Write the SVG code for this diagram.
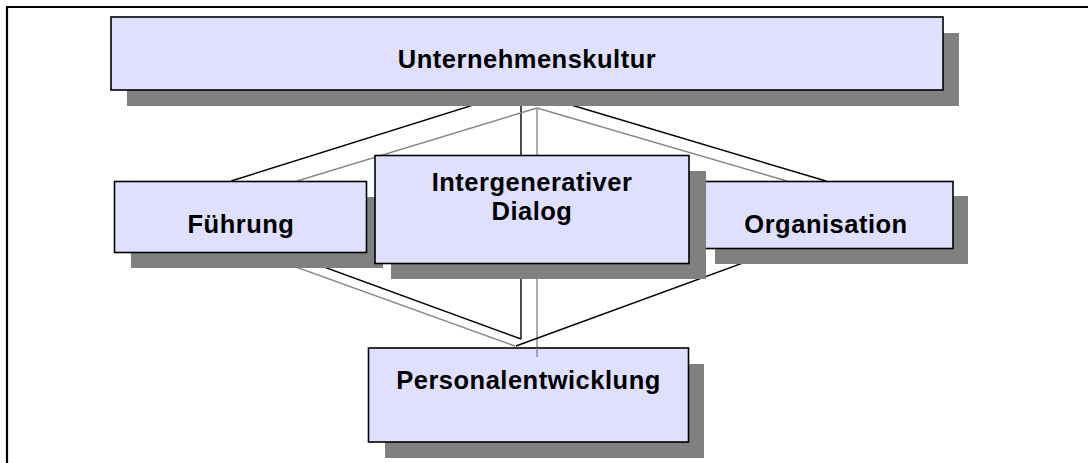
<svg xmlns="http://www.w3.org/2000/svg" width="1088" height="463" viewBox="0 0 1088 463">
  <style>
    .shadow { fill: #808080; }
    .box { fill: #DFDFFF; stroke: #000; stroke-width: 1.6; }
    .label { font-family: "Liberation Sans", Arial, sans-serif; font-weight: bold; font-size: 25.5px; letter-spacing: 0.5px; fill: #000; text-anchor: middle; }
    .dark { stroke: #000; stroke-width: 1.4; fill: none; }
    .light { stroke: #888; stroke-width: 1.4; fill: none; }
  </style>

  <rect width="1088" height="463" fill="#fff"/>
  <!-- frame (open to the right and bottom) -->
  <path d="M7,463 V7 H1088" fill="none" stroke="#000" stroke-width="2.2"/>

  <!-- connectors -->
  <g id="connectors">
    <line class="dark" x1="521" y1="90" x2="231" y2="181"/>
    <line class="dark" x1="521" y1="90" x2="826" y2="181"/>
    <line class="dark" x1="521" y1="90" x2="521" y2="155"/>
    <line class="light" x1="537" y1="108" x2="297" y2="181"/>
    <line class="light" x1="537" y1="108" x2="787" y2="181"/>
    <line class="light" x1="537" y1="108" x2="537" y2="357"/>
    <line class="dark" x1="290" y1="254.5" x2="521" y2="339"/>
    <line class="dark" x1="521" y1="264" x2="521" y2="339"/>
    <line class="light" x1="260" y1="254" x2="515" y2="346"/>
    <line class="dark" x1="516" y1="346" x2="784" y2="248"/>
  </g>

  <g id="unternehmenskultur">
    <rect class="shadow" x="127" y="33" width="832" height="73"/>
    <rect class="box" x="111" y="17" width="832" height="73"/>
    <text class="label" x="527" y="68">Unternehmenskultur</text>
  </g>

  <g id="fuehrung">
    <rect class="shadow" x="131" y="197" width="252" height="71"/>
    <rect class="box" x="114.5" y="181.5" width="252" height="71"/>
    <text class="label" x="241" y="233">Führung</text>
  </g>

  <g id="organisation">
    <rect class="shadow" x="715" y="196" width="253" height="68"/>
    <rect class="box" x="705" y="181.5" width="248" height="67"/>
    <text class="label" x="826" y="233">Organisation</text>
  </g>

  <g id="dialog">
    <rect class="shadow" x="391" y="171" width="315" height="108"/>
    <rect class="box" x="375" y="155.5" width="314" height="108"/>
    <text class="label" x="532" y="191">Intergenerativer</text>
    <text class="label" x="532" y="220">Dialog</text>
  </g>

  <g id="personalentwicklung">
    <rect class="shadow" x="385" y="364" width="319" height="94"/>
    <rect class="box" x="368.5" y="348" width="320" height="94"/>
    <text class="label" x="528.5" y="389">Personalentwicklung</text>
  </g>

  <!-- short stub of the vertical guide that runs over the lower box -->
  <line class="light" x1="537" y1="348" x2="537" y2="357"/>
</svg>
